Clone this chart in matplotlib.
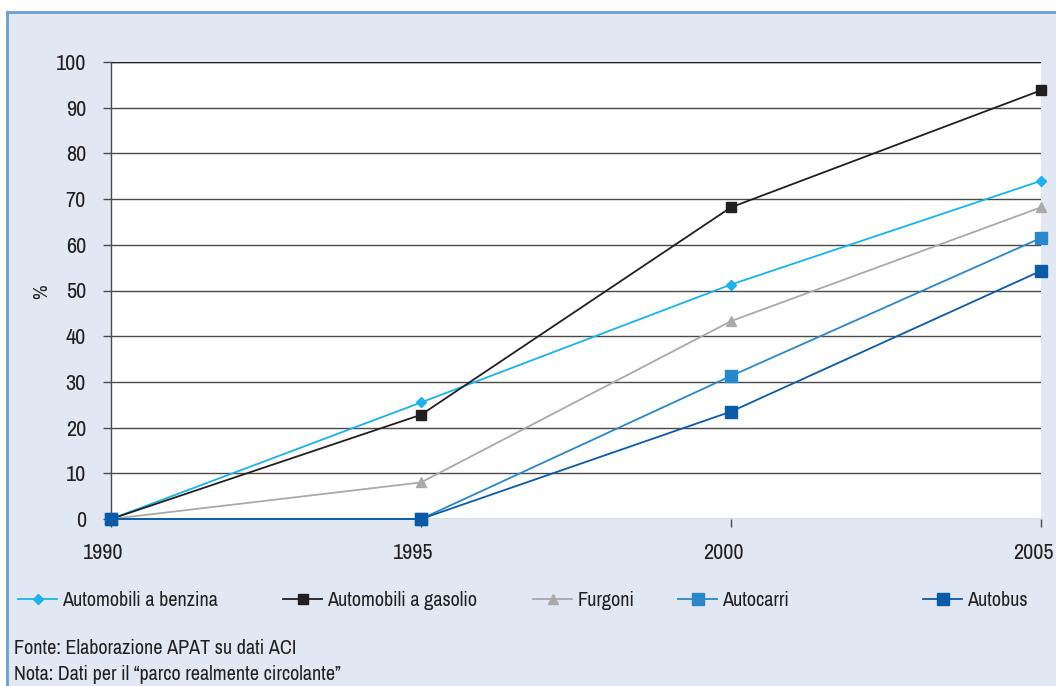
import matplotlib
matplotlib.use("Agg")
import matplotlib.pyplot as plt
import matplotlib.transforms as mtransforms
from matplotlib.lines import Line2D

plt.rcParams['font.family'] = ['Archivo Narrow', 'Liberation Sans', 'DejaVu Sans']

# dati
anni = [1990, 1995, 2000, 2005]
benzina = [0, 25.5, 51.3, 74.0]
gasolio = [0, 22.8, 68.2, 93.8]
furgoni = [0, 8.0, 43.3, 68.2]
autocarri = [0, 0, 31.3, 61.5]
autobus = [0, 0, 23.5, 54.3]

nomi = ["Automobili a benzina", "Automobili a gasolio", "Furgoni", "Autocarri", "Autobus"]
serie = [benzina, gasolio, furgoni, autocarri, autobus]
colori = ["#1cb1ea", "#231f20", "#a9a9a9", "#2a87c9", "#0b5aa8"]
marker = ["D", "s", "^", "s", "s"]
msize = [5.5, 7, 7.5, 8, 8]

W, H = 1056, 686
bg = "#e1e7f3"
testo = "#231f20"
fs = 14.5
fs_tick = 16

fig = plt.figure(figsize=(W / 100, H / 100), dpi=100, facecolor=bg)
ax = fig.add_axes([111 / W, 1 - 519 / H, (1041 - 111) / W, (519 - 62) / H])
ax.set_facecolor("white")

linee = []
for y, nome, c, m, ms in zip(serie, nomi, colori, marker, msize):
    l, = ax.plot(anni, y, color=c, marker=m, markersize=ms, linewidth=1.3,
                 clip_on=False, zorder=3, label=nome)
    linee.append(l)

ax.set_xlim(1990, 2005)
ax.set_ylim(0, 100)
ax.set_yticks(range(0, 101, 10))
ax.set_xticks(anni)
ax.yaxis.grid(True, color="#4a4a4a", linewidth=1.0)
ax.set_axisbelow(True)
for s in ["top", "right", "bottom"]:
    ax.spines[s].set_visible(False)
ax.spines["left"].set_color("#4a4a4a")
ax.spines["left"].set_linewidth(1.0)
ax.axhline(100, color=testo, linewidth=1.0, zorder=1)
ax.tick_params(axis="both", direction="out", width=1, color="#4a4a4a",
               labelsize=fs_tick, labelcolor=testo)
ax.tick_params(axis="y", length=6, pad=12)
ax.tick_params(axis="x", length=5.5, pad=12)

# etichette dell'asse x leggermente a sinistra del tick
for lab in ax.get_xticklabels():
    lab.set_transform(lab.get_transform() + mtransforms.ScaledTranslation(-8 / 100, 0, fig.dpi_scale_trans))

fig.text(42 / W, 1 - 292 / H, "%", rotation=90, fontsize=fs, color=testo, ha="center", va="center")

# legenda su una riga, voci posizionate una per una
pos_x = [18, 283, 533, 678, 923]
for l, x in zip(linee, pos_x):
    fig.legend(handles=[l], loc="center left", bbox_to_anchor=(x / W, 1 - 601 / H),
               frameon=False, fontsize=fs, handlelength=1.95, handletextpad=0.25,
               borderpad=0, borderaxespad=0, labelcolor=testo)

fig.text(14 / W, 1 - 648 / H, "Fonte: Elaborazione APAT su dati ACI",
         fontsize=fs, color=testo, va="center")
fig.text(14 / W, 1 - 675 / H, "Nota: Dati per il \u201cparco realmente circolante\u201d",
         fontsize=fs, color=testo, va="center")

# cornice: fondo bianco fuori, bordo azzurro a sinistra e in alto
fig.patches.append(plt.Rectangle((0, 1 - 12 / H), 1, 12 / H, transform=fig.transFigure,
                                 facecolor="white", edgecolor="none", zorder=-1))
fig.patches.append(plt.Rectangle((0, 0), 7 / W, 1, transform=fig.transFigure,
                                 facecolor="white", edgecolor="none", zorder=-1))
bordo = "#6c9ecf"
fig.add_artist(Line2D([7 / W, 7 / W], [0, 1 - 12 / H], transform=fig.transFigure,
                      color=bordo, linewidth=2))
fig.add_artist(Line2D([7 / W, 1], [1 - 12 / H, 1 - 12 / H], transform=fig.transFigure,
                      color=bordo, linewidth=2))

fig.savefig("out.png", dpi=100, facecolor=bg)
